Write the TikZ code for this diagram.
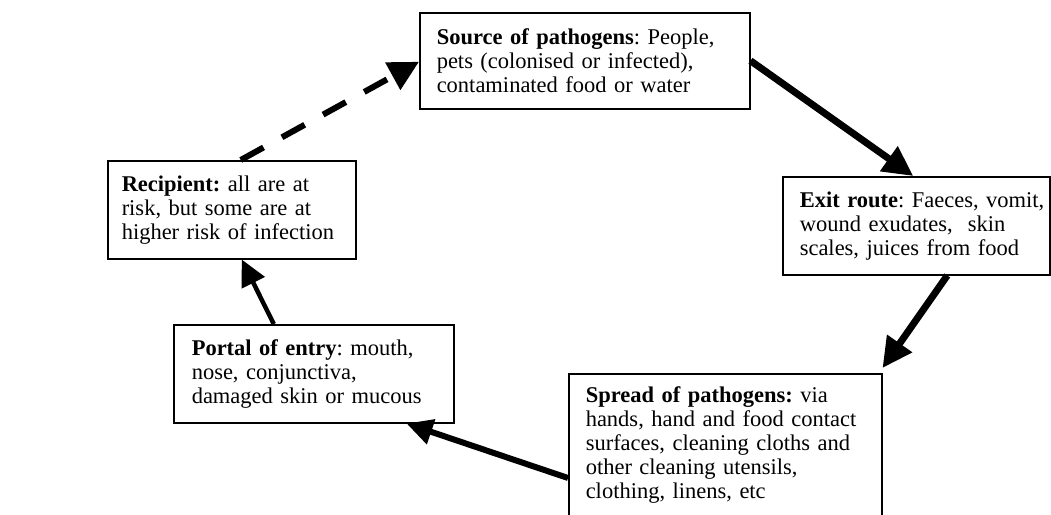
\documentclass[tikz,border=0pt]{standalone}
\usepackage{fontspec}
\setmainfont{Liberation Serif}
\usetikzlibrary{arrows.meta}
\frenchspacing
\hbadness=10000
\hfuzz=50pt
\begin{document}
\begin{tikzpicture}[x=1pt,y=-1pt,
  box/.style={draw,line width=1.5pt,anchor=north west,inner xsep=17pt,inner ysep=0pt,
    align=left,font=\fontsize{22.5}{24}\selectfont\frenchspacing},
  flow/.style={line width=#1,-{Triangle[length=30pt,width=29pt]}},
  flow/.default=7pt,
  smallflow/.style={line width=#1,-{Triangle[length=26pt,width=25pt]}}
]
\useasboundingbox (0,0) rectangle (1051,514);
\clip (0,0) rectangle (1051,514);
\fill[white] (0,0) rectangle (1051,514);

\node[box,minimum width=330pt,minimum height=96pt,text width=296pt] (src) at (419,12)
  {\textbf{Source of pathogens}: People,\\pets (colonised or infected),\\contaminated food or water};
\node[box,minimum width=248pt,minimum height=98pt,text width=220pt,inner xsep=14pt] (rec) at (107,160)
  {\textbf{Recipient:} all are at\\risk, but some are at\\higher risk of infection};
\node[box,minimum width=267pt,minimum height=98pt,text width=233pt] (exit) at (782,176)
  {\mbox{\textbf{Exit route}: Faeces, vomit,}\\wound exudates, \ skin\\scales, juices from food};
\node[box,minimum width=280pt,minimum height=98pt,text width=244pt,inner xsep=18pt] (portal) at (173,324)
  {\textbf{Portal of entry}: mouth,\\nose, conjunctiva,\\damaged skin or mucous};
\node[box,minimum width=313pt,text width=279pt,inner ysep=13pt,text depth=140pt] (spread) at (568,373)
  {\textbf{Spread of pathogens:} via\\hands, hand and food contact\\surfaces, cleaning cloths and\\other cleaning utensils,\\clothing, linens, etc};

\draw[line width=6pt,dash pattern=on 26pt off 21pt,-{Triangle[length=30pt,width=30pt]}]
  ([xshift=9pt]rec.north) -- ([yshift=-1pt]src.west);
\draw[flow] (src.east) -- ([xshift=-3pt]exit.north);
\draw[flow] ([xshift=31pt]exit.south) -- ([yshift=5pt]spread.north east);
\draw[smallflow=6pt] ([yshift=-105pt]spread.north west) -- ([xshift=-48pt]portal.south east);
\draw[smallflow=4.5pt] ([xshift=-40pt]portal.north) -- ([xshift=10pt]rec.south);
\end{tikzpicture}
\end{document}
